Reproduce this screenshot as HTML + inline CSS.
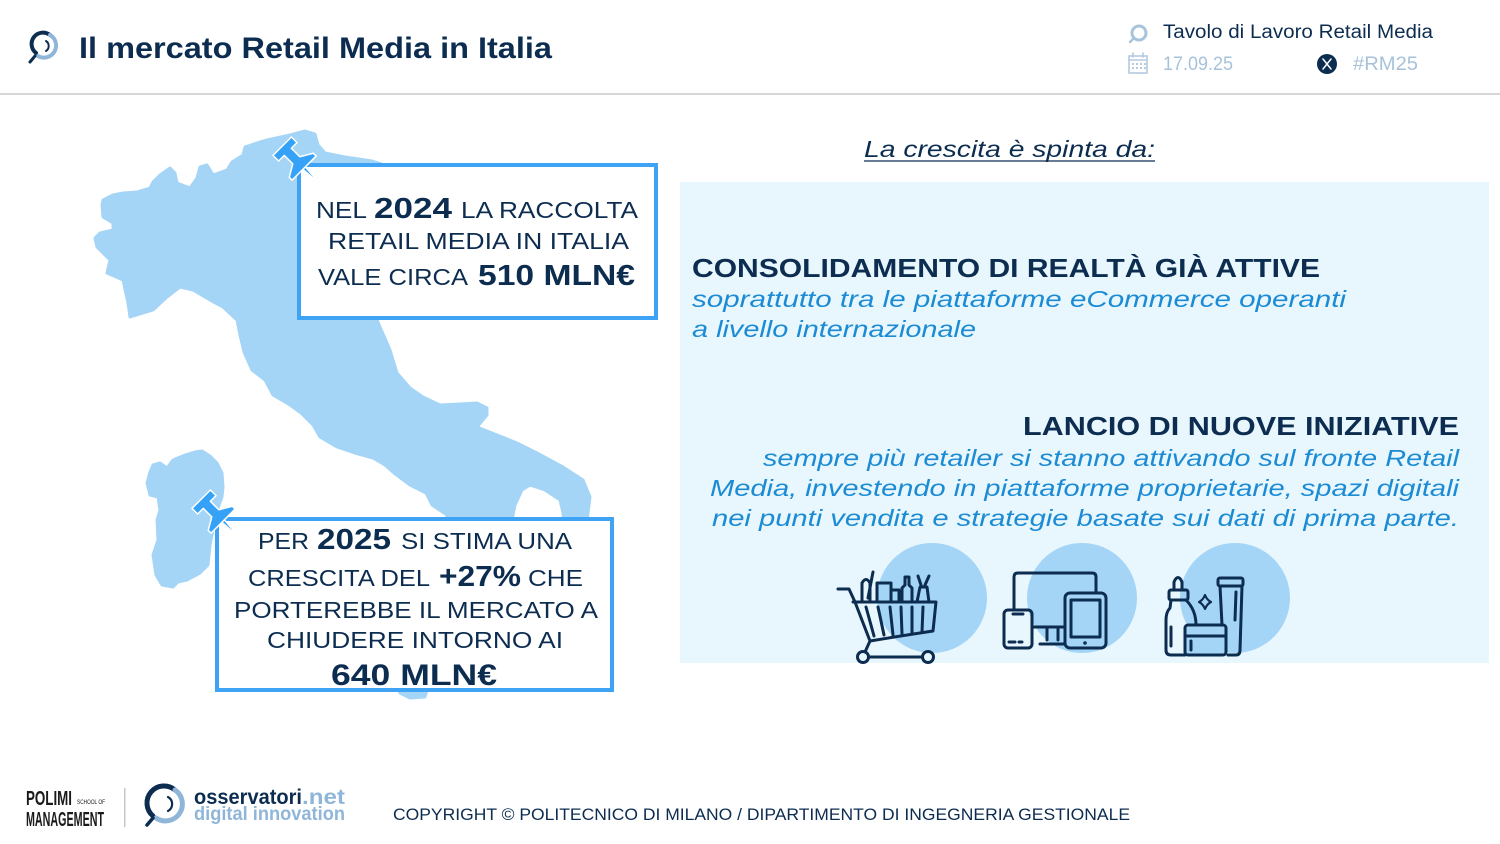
<!DOCTYPE html>
<html>
<head>
<meta charset="utf-8">
<style>
html,body{margin:0;padding:0;background:#fff;}
svg{display:block;}
text{font-family:"Liberation Sans",sans-serif;}
</style>
</head>
<body>
<svg width="1500" height="844" viewBox="0 0 1500 844" xmlns="http://www.w3.org/2000/svg">
  <rect x="0" y="0" width="1500" height="844" fill="#ffffff"/>

  <!-- Header -->
  <g fill="none" stroke-linecap="round">
    <path d="M36,53 A11,11 0 0 1 50,35" stroke="#0c2c50" stroke-width="4"/>
    <path d="M50,35 A11,11 0 0 1 38,56" stroke="#8fb6d9" stroke-width="4"/>
    <path d="M46,41 A6,6 0 0 1 46,51" stroke="#0c2c50" stroke-width="2"/>
    <line x1="35" y1="56" x2="30" y2="62" stroke="#0c2c50" stroke-width="3"/>
  </g>
  <text x="79" y="58" font-size="30" font-weight="bold" fill="#0c2c50" textLength="473" lengthAdjust="spacingAndGlyphs">Il mercato Retail Media in Italia</text>

  <!-- header right -->
  <g fill="none" stroke-linecap="round">
    <circle cx="1139" cy="33" r="7" stroke="#a8c4dc" stroke-width="3"/>
    <line x1="1134" y1="38" x2="1130" y2="42" stroke="#a8c4dc" stroke-width="2.5"/>
    <rect x="1129" y="56" width="18" height="17" stroke="#b4cadf" stroke-width="1.6"/>
    <line x1="1129" y1="60" x2="1147" y2="60" stroke="#b4cadf" stroke-width="1.6"/>
    <line x1="1133" y1="53" x2="1133" y2="57" stroke="#b4cadf" stroke-width="1.6"/>
    <line x1="1143" y1="53" x2="1143" y2="57" stroke="#b4cadf" stroke-width="1.6"/>
  </g>
  <g fill="#b4cadf">
    <rect x="1132" y="63" width="2" height="2"/><rect x="1136" y="63" width="2" height="2"/><rect x="1140" y="63" width="2" height="2"/><rect x="1144" y="63" width="2" height="2"/>
    <rect x="1132" y="67" width="2" height="2"/><rect x="1136" y="67" width="2" height="2"/><rect x="1140" y="67" width="2" height="2"/><rect x="1144" y="67" width="2" height="2"/>
  </g>
  <text x="1163" y="38" font-size="19" fill="#0c2c50" textLength="270" lengthAdjust="spacingAndGlyphs">Tavolo di Lavoro Retail Media</text>
  <text x="1163" y="70" font-size="19" fill="#a7c2da" textLength="70" lengthAdjust="spacingAndGlyphs">17.09.25</text>
  <circle cx="1327" cy="64" r="10" fill="#0c2c50"/>
  <g stroke="#ffffff" stroke-width="1.5" stroke-linecap="round">
    <line x1="1323" y1="59" x2="1331" y2="69"/>
    <line x1="1331" y1="59" x2="1323" y2="69"/>
  </g>
  <text x="1353" y="70" font-size="19" fill="#a7c2da" textLength="65" lengthAdjust="spacingAndGlyphs">#RM25</text>

  <rect x="0" y="93" width="1500" height="2" fill="#d6d6d6"/>

  <!-- Map -->
  <g fill="#a5d5f6" stroke="#a5d5f6" stroke-width="3" stroke-linejoin="round">
    <path d="M103,200 L113,195 L123,193 L137,192 L150,188 L153,182 L160,175 L170,168 L175,173 L177,183 L190,188 L197,178 L200,167 L207,165 L212,173 L213,175 L227,170 L232,162 L243,155 L245,147 L260,142 L267,140 L290,135 L305,131 L315,134 L318,145 L325,153 L345,157 L372,161 L400,170 L400,300 L377,320 L380,327 L390,350 L397,373 L410,388 L423,397 L440,405 L460,404 L477,403 L487,408 L487,415 L477,427 L497,435 L517,443 L537,453 L563,467 L583,480 L590,497 L588,513 L586,530 L565,530 L563,513 L560,500 L545,490 L530,485 L522,490 L515,505 L512,520 L470,600 L430,680 L425,697 L410,698 L400,693 L395,680 L440,560 L447,515 L432,505 L426,493 L410,485 L394,473 L385,465 L373,458 L355,453 L337,447 L320,437 L313,425 L301,413 L290,405 L273,395 L265,380 L252,370 L244,352 L240,335 L237,320 L223,307 L210,300 L193,290 L180,287 L167,297 L153,310 L130,317 L128,303 L123,280 L107,273 L110,260 L97,247 L95,238 L100,233 L113,230 L113,223 L103,217 L102,205 Z"/>
    <path d="M153,465 L160,463 L167,468 L173,460 L185,455 L195,452 L202,451 L210,456 L217,463 L222,473 L223,487 L222,497 L219,505 L214,525 L210,545 L208,565 L200,573 L187,580 L178,582 L173,587 L162,585 L156,575 L153,555 L158,540 L157,520 L160,510 L158,497 L150,495 L147,483 L150,472 Z"/>
  </g>

  <!-- Box 1 -->
  <rect x="299" y="165" width="357" height="153" fill="#ffffff" stroke="#3ea3f5" stroke-width="4"/>
  <g fill="#0c2c50">
    <text x="316" y="218" font-size="23" textLength="51" lengthAdjust="spacingAndGlyphs">NEL</text>
    <text x="374" y="218" font-size="29" font-weight="bold" textLength="78" lengthAdjust="spacingAndGlyphs">2024</text>
    <text x="461" y="218" font-size="23" textLength="177" lengthAdjust="spacingAndGlyphs">LA RACCOLTA</text>
    <text x="328" y="249" font-size="23" textLength="301" lengthAdjust="spacingAndGlyphs">RETAIL MEDIA IN ITALIA</text>
    <text x="318" y="285" font-size="23" textLength="150" lengthAdjust="spacingAndGlyphs">VALE CIRCA</text>
    <text x="478" y="285" font-size="29" font-weight="bold" textLength="157" lengthAdjust="spacingAndGlyphs">510 MLN€</text>
  </g>

  <!-- Box 2 -->
  <rect x="217" y="519" width="395" height="171" fill="#ffffff" stroke="#3ea3f5" stroke-width="4"/>
  <g fill="#0c2c50">
    <text x="258" y="549" font-size="23" textLength="51" lengthAdjust="spacingAndGlyphs">PER</text>
    <text x="317" y="549" font-size="29" font-weight="bold" textLength="74" lengthAdjust="spacingAndGlyphs">2025</text>
    <text x="401" y="549" font-size="23" textLength="171" lengthAdjust="spacingAndGlyphs">SI STIMA UNA</text>
    <text x="248" y="586" font-size="23" textLength="182" lengthAdjust="spacingAndGlyphs">CRESCITA DEL</text>
    <text x="439" y="586" font-size="29" font-weight="bold" textLength="82" lengthAdjust="spacingAndGlyphs">+27%</text>
    <text x="528" y="586" font-size="23" textLength="55" lengthAdjust="spacingAndGlyphs">CHE</text>
    <text x="234" y="618" font-size="23" textLength="364" lengthAdjust="spacingAndGlyphs">PORTEREBBE IL MERCATO A</text>
    <text x="267" y="648" font-size="23" textLength="296" lengthAdjust="spacingAndGlyphs">CHIUDERE INTORNO AI</text>
    <text x="331" y="685" font-size="30" font-weight="bold" textLength="166" lengthAdjust="spacingAndGlyphs">640 MLN€</text>
  </g>

  <!-- Pins -->
  <g fill="#35a2f7" stroke="#ffffff" stroke-width="1.5" stroke-linejoin="round">
    <g transform="translate(285,149) rotate(45)">
      <path d="M27,-1.8 L50,0 L27,1.8 Z"/>
      <path d="M-4,-13 L4,-13 L4,-5 L16,-5 L23,-17 L27,-17 L27,17 L23,17 L16,5 L4,5 L4,13 L-4,13 Z"/>
    </g>
    <g transform="translate(204,502) rotate(45)">
      <path d="M27,-1.8 L50,0 L27,1.8 Z"/>
      <path d="M-4,-13 L4,-13 L4,-5 L16,-5 L23,-17 L27,-17 L27,17 L23,17 L16,5 L4,5 L4,13 L-4,13 Z"/>
    </g>
  </g>

  <!-- Right panel -->
  <text x="864" y="157" font-size="23" font-style="italic" fill="#0c2c50" textLength="291" lengthAdjust="spacingAndGlyphs">La crescita è spinta da:</text>
  <line x1="864" y1="161" x2="1155" y2="161" stroke="#0c2c50" stroke-width="1.3"/>
  <rect x="680" y="182" width="809" height="481" fill="#e8f6fe"/>

  <text x="692" y="277" font-size="26" font-weight="bold" fill="#0c2c50" textLength="628" lengthAdjust="spacingAndGlyphs">CONSOLIDAMENTO DI REALTÀ GIÀ ATTIVE</text>
  <g fill="#1b8bd4" font-style="italic" font-size="23">
    <text x="692" y="307" textLength="654" lengthAdjust="spacingAndGlyphs">soprattutto tra le piattaforme eCommerce operanti</text>
    <text x="692" y="337" textLength="284" lengthAdjust="spacingAndGlyphs">a livello internazionale</text>
  </g>
  <text x="1023" y="435" font-size="26" font-weight="bold" fill="#0c2c50" textLength="436" lengthAdjust="spacingAndGlyphs">LANCIO DI NUOVE INIZIATIVE</text>
  <g fill="#1b8bd4" font-style="italic" font-size="23">
    <text x="763" y="466" textLength="696" lengthAdjust="spacingAndGlyphs">sempre più retailer si stanno attivando sul fronte Retail</text>
    <text x="710" y="496" textLength="749" lengthAdjust="spacingAndGlyphs">Media, investendo in piattaforme proprietarie, spazi digitali</text>
    <text x="712" y="526" textLength="747" lengthAdjust="spacingAndGlyphs">nei punti vendita e strategie basate sui dati di prima parte.</text>
  </g>

  <!-- circles -->
  <g fill="#a5d5f6">
    <circle cx="932" cy="598" r="55"/>
    <circle cx="1082" cy="598" r="55"/>
    <circle cx="1235" cy="598" r="55"/>
  </g>

  <!-- Cart -->
  <g fill="none" stroke="#0c2c50" stroke-width="3" stroke-linecap="round" stroke-linejoin="round">
    <path d="M838,589 L849,589 L855,602 L870,641 L865,652"/>
    <path d="M853,602 L936,602 L933,631 Q900,636 870,641"/>
    <path d="M866,607 L874,636 M878,607 L884,635 M890,607 L893,635 M901,607 L902,634 M912,607 L912,633 M923,607 L922,632"/>
    <path d="M869,657 L922,657"/>
    <circle cx="863" cy="657" r="5.5"/>
    <circle cx="928" cy="657" r="5.5"/>
    <path d="M862,602 L862,583 Q866,576 870,583 L870,602"/>
    <path d="M868,598 L873,572"/>
    <rect x="877" y="583" width="14" height="19"/>
    <rect x="891" y="590" width="8" height="12"/>
    <path d="M902,602 L902,588 L905,585 L905,577 L909,577 L909,585 L912,588 L912,602"/>
    <path d="M917,602 L920,587 L927,587 L929,602 M921,585 L918,576 M925,585 L929,576"/>
  </g>

  <!-- Devices -->
  <g fill="none" stroke="#0c2c50" stroke-width="3" stroke-linecap="round" stroke-linejoin="round">
    <path d="M1014,610 L1014,577 Q1014,573 1018,573 L1092,573 Q1096,573 1096,577 L1096,593"/>
    <path d="M1032,627 L1065,627"/>
    <path d="M1047,627 L1047,640 M1058,627 L1058,640 M1040,644 L1065,644"/>
    <rect x="1004" y="610" width="28" height="38" rx="4"/>
    <path d="M1013,614 L1023,614 M1009,642 L1015,642 M1019,642 L1022,642"/>
    <rect x="1065" y="593" width="41" height="55" rx="5" fill="#a5d5f6"/>
    <rect x="1071" y="600" width="29" height="37"/>
  </g>
  <circle cx="1085" cy="643" r="1.8" fill="#0c2c50"/>

  <!-- Cosmetics -->
  <g fill="none" stroke="#0c2c50" stroke-width="3" stroke-linecap="round" stroke-linejoin="round">
    <path d="M1174,590 L1174,582 Q1178,573 1182,582 L1182,590"/>
    <rect x="1169" y="590" width="19" height="10" rx="2"/>
    <path d="M1171,600 L1170,608 Q1166,612 1166,620 L1166,650 Q1166,655 1171,655 L1185,655"/>
    <path d="M1186,600 Q1196,610 1196,625"/>
    <path d="M1171,627 L1171,646"/>
    <path d="M1220,586 L1222,625 M1242,586 L1240,650 Q1240,655 1236,655 L1228,655"/>
    <rect x="1218" y="578" width="25" height="8" rx="2"/>
    <path d="M1236,592 L1235,620"/>
    <rect x="1185" y="625" width="41" height="30" rx="3" fill="#a5d5f6"/>
    <path d="M1185,636 L1226,636 M1191,641 L1191,650"/>
    <path d="M1205,595 Q1207,600 1211,602 Q1207,604 1205,609 Q1203,604 1199,602 Q1203,600 1205,595 Z" stroke-width="2.2"/>
  </g>

  <!-- Footer -->
  <g fill="#1a1a1a" font-weight="bold">
    <text x="26" y="805" font-size="20" textLength="46" lengthAdjust="spacingAndGlyphs">POLIMI</text>
    <text x="26" y="826" font-size="20" textLength="78" lengthAdjust="spacingAndGlyphs">MANAGEMENT</text>
  </g>
  <text x="77" y="804" font-size="6" fill="#1a1a1a" textLength="28" lengthAdjust="spacingAndGlyphs">SCHOOL OF</text>
  <rect x="124" y="788" width="1.5" height="39" fill="#c8c8c8"/>

  <g fill="none" stroke-linecap="round">
    <path d="M153,816 A16,16 0 0 1 175,790" stroke="#0c2c50" stroke-width="5"/>
    <path d="M175,790 A16,16 0 0 1 156,818" stroke="#8fb6d9" stroke-width="5"/>
    <path d="M168,797 A8,8 0 0 1 168,811" stroke="#0c2c50" stroke-width="2.2"/>
    <line x1="153" y1="818" x2="147" y2="825" stroke="#0c2c50" stroke-width="3.5"/>
  </g>
  <text x="194" y="804" font-size="21" font-weight="bold" fill="#0c2c50" textLength="108" lengthAdjust="spacingAndGlyphs">osservatori</text>
  <text x="302" y="804" font-size="21" font-weight="bold" fill="#8fb6d9" textLength="43" lengthAdjust="spacingAndGlyphs">.net</text>
  <text x="194" y="820" font-size="19" font-weight="bold" fill="#8fb6d9" textLength="151" lengthAdjust="spacingAndGlyphs">digital innovation</text>

  <text x="393" y="820" font-size="16.5" fill="#0c2c50" textLength="737" lengthAdjust="spacingAndGlyphs">COPYRIGHT © POLITECNICO DI MILANO / DIPARTIMENTO DI INGEGNERIA GESTIONALE</text>
</svg>
</body>
</html>
